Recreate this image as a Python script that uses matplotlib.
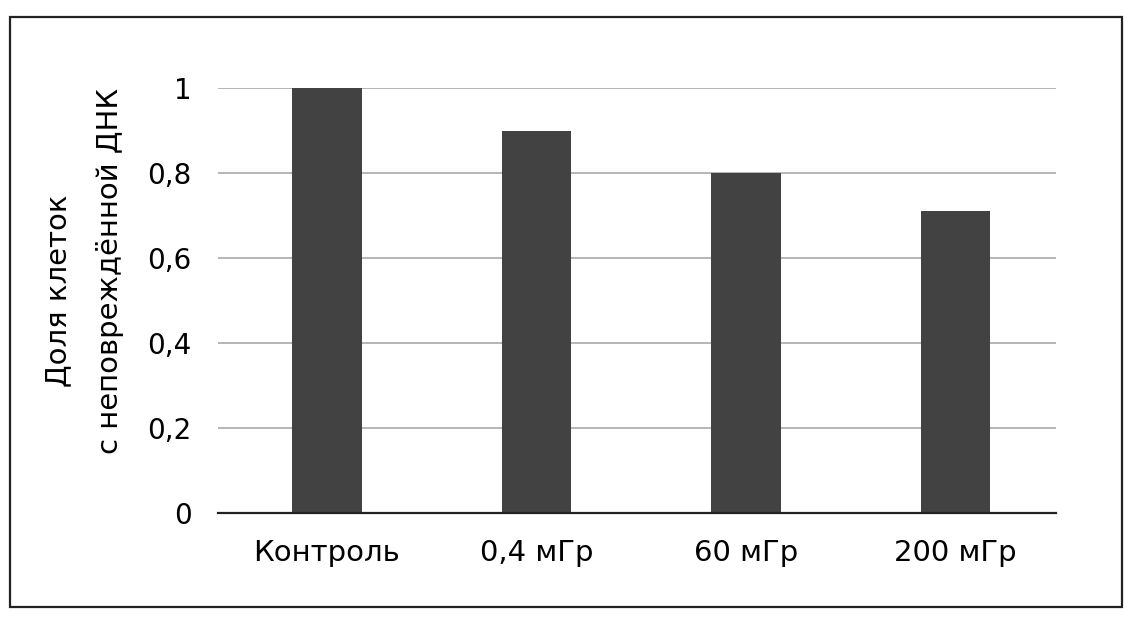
import matplotlib
matplotlib.use("Agg")
import matplotlib.pyplot as plt
from matplotlib.patches import Rectangle

# Данные
categories = ["Контроль", "0,4 мГр", "60 мГр", "200 мГр"]
values = [1.0, 0.9, 0.8, 0.71]
y_ticks = [0, 0.2, 0.4, 0.6, 0.8, 1.0]
y_tick_labels = ["0", "0,2", "0,4", "0,6", "0,8", "1"]
y_label_lines = ["Доля клеток", "с неповреждённой ДНК"]

plt.rcParams['font.family'] = ['DejaVu Sans']

fig = plt.figure(figsize=(11.28, 6.2), dpi=100)
W, H = 1128, 620

ax = fig.add_axes([218 / W, 1 - 513 / H, 838 / W, 425 / H])

x = list(range(len(categories)))
ax.bar(x, values, width=0.33, color="#424242", zorder=3)

ax.set_xlim(-0.52, len(categories) - 0.52)
ax.set_ylim(0, 1.0)
ax.set_yticks(y_ticks)
ax.set_yticklabels(y_tick_labels)
ax.set_xticks(x)
ax.set_xticklabels(categories)

ax.yaxis.grid(True, color="#b0b0b0", linewidth=1.3, zorder=0)
ax.tick_params(axis="both", length=0, colors="black")
ax.tick_params(axis="y", pad=19, labelsize=20)
ax.tick_params(axis="x", pad=19, labelsize=21)

for s in ["top", "right", "left"]:
    ax.spines[s].set_visible(False)
ax.spines["bottom"].set_color("#222222")
ax.spines["bottom"].set_linewidth(1.6)
ax.spines["bottom"].set_zorder(4)

# подпись оси Y в две строки
fig.text(66 / W, 1 - 291 / H, y_label_lines[0], rotation=90, rotation_mode="anchor",
         ha="center", va="baseline", fontsize=21)
fig.text(118 / W, 1 - 271 / H, y_label_lines[1], rotation=90, rotation_mode="anchor",
         ha="center", va="baseline", fontsize=21)

# рамка вокруг всего рисунка
border = Rectangle((10 / W, 1 - 607 / H), 1112 / W, 590 / H,
                   transform=fig.transFigure, fill=False,
                   edgecolor="#222222", linewidth=1.6)
fig.patches.append(border)

fig.savefig("out.png", dpi=100, facecolor="white")
